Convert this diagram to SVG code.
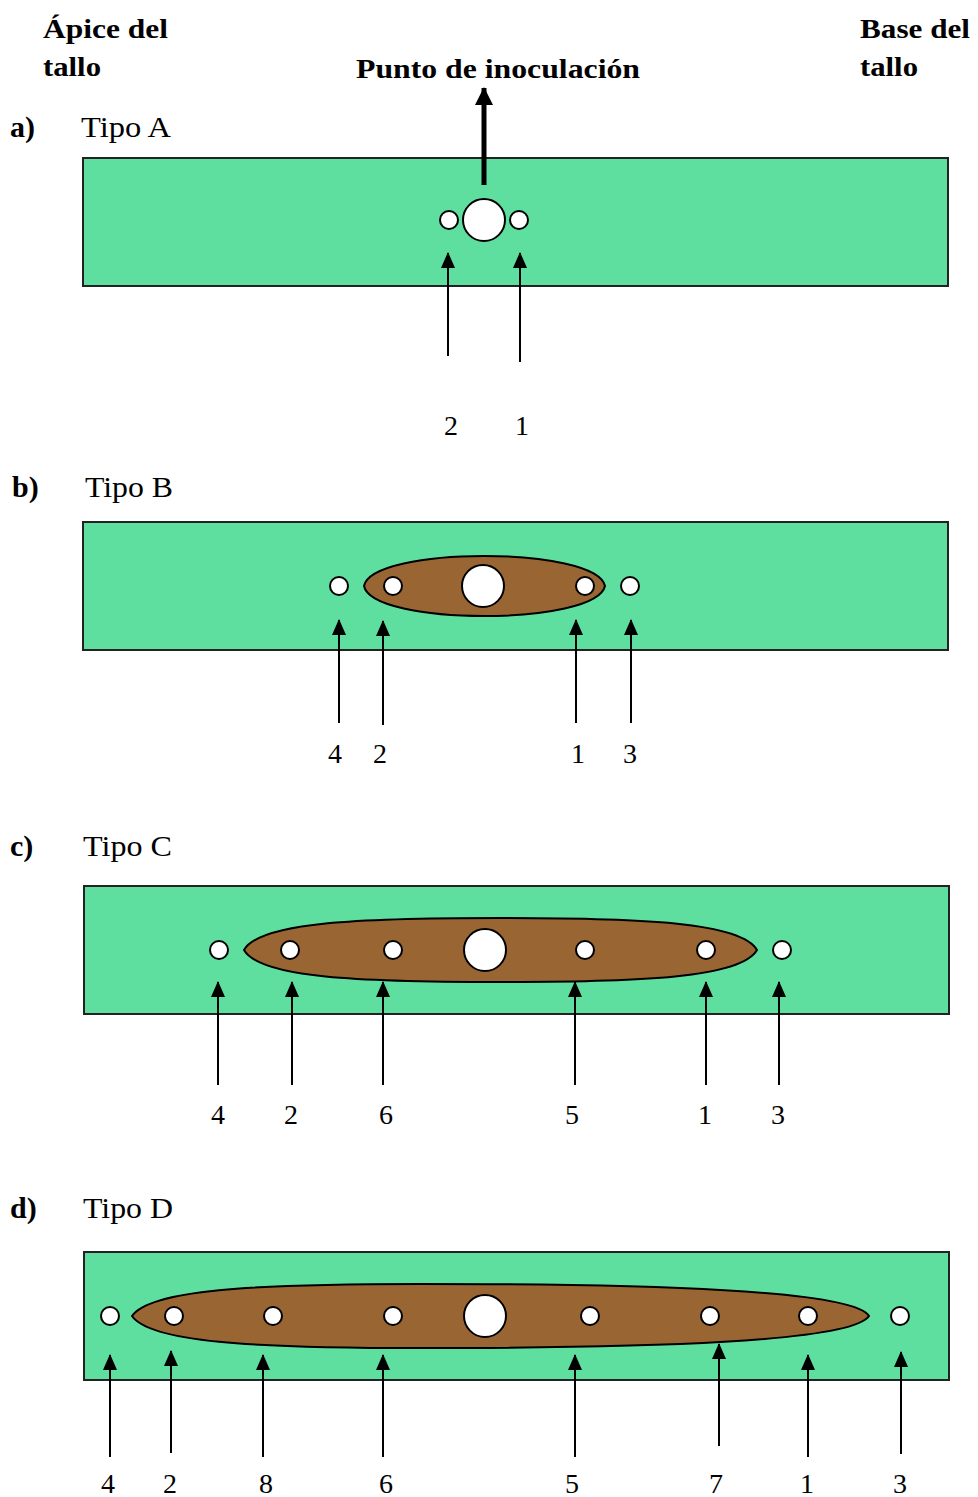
<svg xmlns="http://www.w3.org/2000/svg" width="978" height="1497" viewBox="0 0 978 1497">
  <defs>
    <style>
      .stem { fill: #5EDFA0; stroke: #222; stroke-width: 2; }
      .lesion { fill: #996633; stroke: #000; stroke-width: 2; }
      .hole { fill: #fff; stroke: #000; stroke-width: 2; }
      .lbl { font-family: "Liberation Serif", "Times New Roman", serif; font-size: 30px; fill: #000; }
      .bold { font-weight: bold; }
      .head { font-size: 28px; }
      .num { text-anchor: middle; font-size: 28px; }
      .arr { stroke: #000; stroke-width: 2; fill: none; marker-end: url(#head); }
      .arrBig { stroke: #000; stroke-width: 5; fill: none; marker-end: url(#headBig); }
    </style>
    <marker id="head" viewBox="0 0 16 14" refX="15" refY="7" markerWidth="16" markerHeight="14" markerUnits="userSpaceOnUse" orient="auto">
      <path d="M0,0 L16,7 L0,14 Z" fill="#000"/>
    </marker>
    <marker id="headBig" viewBox="0 0 18 18" refX="17" refY="9" markerWidth="18" markerHeight="18" markerUnits="userSpaceOnUse" orient="auto">
      <path d="M0,0 L18,9 L0,18 Z" fill="#000"/>
    </marker>
  </defs>
  <rect width="978" height="1497" fill="#fff"/>

  <!-- header labels -->
  <g id="header">
    <text class="lbl bold head" x="43" y="38" textLength="125" lengthAdjust="spacingAndGlyphs">Ápice del</text>
    <text class="lbl bold head" x="43" y="76" textLength="58" lengthAdjust="spacingAndGlyphs">tallo</text>
    <text class="lbl bold head" x="356" y="78" textLength="284" lengthAdjust="spacingAndGlyphs">Punto de inoculación</text>
    <text class="lbl bold head" x="860" y="38" textLength="110" lengthAdjust="spacingAndGlyphs">Base del</text>
    <text class="lbl bold head" x="860" y="76" textLength="58" lengthAdjust="spacingAndGlyphs">tallo</text>
  </g>

  <!-- a) Tipo A -->
  <g id="tipo-a">
    <text class="lbl bold" x="10" y="137">a)</text>
    <text class="lbl" x="81" y="137" textLength="90" lengthAdjust="spacingAndGlyphs">Tipo A</text>
    <rect class="stem" x="83" y="158" width="865" height="128"/>
    <circle class="hole" cx="484" cy="220" r="21"/>
    <circle class="hole" cx="449" cy="220" r="9"/>
    <circle class="hole" cx="519" cy="220" r="9"/>
    <g class="lbl num">
      <text x="451" y="435">2</text>
      <text x="522" y="435">1</text>
    </g>
  </g>

  <!-- b) Tipo B -->
  <g id="tipo-b">
    <text class="lbl bold" x="12" y="497">b)</text>
    <text class="lbl" x="85" y="497" textLength="88" lengthAdjust="spacingAndGlyphs">Tipo B</text>
    <rect class="stem" x="83" y="522" width="865" height="128"/>
    <path class="lesion" d="M364,586 C372,546 596,546 605,586 C596,626 372,626 364,586 Z"/>
    <circle class="hole" cx="483" cy="586" r="21"/>
    <circle class="hole" cx="339" cy="586" r="9"/>
    <circle class="hole" cx="393" cy="586" r="9"/>
    <circle class="hole" cx="585" cy="586" r="9"/>
    <circle class="hole" cx="630" cy="586" r="9"/>
    <g class="lbl num">
      <text x="335" y="763">4</text>
      <text x="380" y="763">2</text>
      <text x="578" y="763">1</text>
      <text x="630" y="763">3</text>
    </g>
  </g>

  <!-- c) Tipo C -->
  <g id="tipo-c">
    <text class="lbl bold" x="10" y="856">c)</text>
    <text class="lbl" x="83" y="856" textLength="89" lengthAdjust="spacingAndGlyphs">Tipo C</text>
    <rect class="stem" x="84" y="886" width="865" height="128"/>
    <path class="lesion" d="M244,950 C260,922 360,918 500,918 C640,918 741,922 757,950 C741,978 640,982 500,982 C360,982 260,978 244,950 Z"/>
    <circle class="hole" cx="485" cy="950" r="21"/>
    <circle class="hole" cx="219" cy="950" r="9"/>
    <circle class="hole" cx="290" cy="950" r="9"/>
    <circle class="hole" cx="393" cy="950" r="9"/>
    <circle class="hole" cx="585" cy="950" r="9"/>
    <circle class="hole" cx="706" cy="950" r="9"/>
    <circle class="hole" cx="782" cy="950" r="9"/>
    <g class="lbl num">
      <text x="218" y="1124">4</text>
      <text x="291" y="1124">2</text>
      <text x="386" y="1124">6</text>
      <text x="572" y="1124">5</text>
      <text x="705" y="1124">1</text>
      <text x="778" y="1124">3</text>
    </g>
  </g>

  <!-- d) Tipo D -->
  <g id="tipo-d">
    <text class="lbl bold" x="10" y="1218">d)</text>
    <text class="lbl" x="83" y="1218" textLength="90" lengthAdjust="spacingAndGlyphs">Tipo D</text>
    <rect class="stem" x="84" y="1252" width="865" height="128"/>
    <path class="lesion" d="M132,1316 C150,1290 250,1284 420,1284 C650,1284 852,1290 869,1316 C852,1342 650,1348 420,1348 C250,1348 150,1342 132,1316 Z"/>
    <circle class="hole" cx="485" cy="1316" r="21"/>
    <circle class="hole" cx="110" cy="1316" r="9"/>
    <circle class="hole" cx="174" cy="1316" r="9"/>
    <circle class="hole" cx="273" cy="1316" r="9"/>
    <circle class="hole" cx="393" cy="1316" r="9"/>
    <circle class="hole" cx="590" cy="1316" r="9"/>
    <circle class="hole" cx="710" cy="1316" r="9"/>
    <circle class="hole" cx="808" cy="1316" r="9"/>
    <circle class="hole" cx="900" cy="1316" r="9"/>
    <g class="lbl num">
      <text x="108" y="1493">4</text>
      <text x="170" y="1493">2</text>
      <text x="266" y="1493">8</text>
      <text x="386" y="1493">6</text>
      <text x="572" y="1493">5</text>
      <text x="716" y="1493">7</text>
      <text x="807" y="1493">1</text>
      <text x="900" y="1493">3</text>
    </g>
  </g>

  <!-- pointer arrows -->
  <g id="connectors">
    <line class="arrBig" x1="484" y1="185" x2="484" y2="88"/>

    <line class="arr" x1="448" y1="356" x2="448" y2="253"/>
    <line class="arr" x1="520" y1="362" x2="520" y2="253"/>

    <line class="arr" x1="339" y1="723" x2="339" y2="620"/>
    <line class="arr" x1="383" y1="725" x2="383" y2="621"/>
    <line class="arr" x1="576" y1="723" x2="576" y2="620"/>
    <line class="arr" x1="631" y1="723" x2="631" y2="620"/>

    <line class="arr" x1="218" y1="1085" x2="218" y2="982"/>
    <line class="arr" x1="292" y1="1085" x2="292" y2="982"/>
    <line class="arr" x1="383" y1="1085" x2="383" y2="982"/>
    <line class="arr" x1="575" y1="1085" x2="575" y2="982"/>
    <line class="arr" x1="706" y1="1085" x2="706" y2="982"/>
    <line class="arr" x1="779" y1="1085" x2="779" y2="982"/>

    <line class="arr" x1="110" y1="1457" x2="110" y2="1355"/>
    <line class="arr" x1="171" y1="1453" x2="171" y2="1351"/>
    <line class="arr" x1="263" y1="1457" x2="263" y2="1355"/>
    <line class="arr" x1="383" y1="1457" x2="383" y2="1355"/>
    <line class="arr" x1="575" y1="1457" x2="575" y2="1355"/>
    <line class="arr" x1="719" y1="1446" x2="719" y2="1344"/>
    <line class="arr" x1="808" y1="1457" x2="808" y2="1355"/>
    <line class="arr" x1="901" y1="1454" x2="901" y2="1352"/>
  </g>
</svg>
